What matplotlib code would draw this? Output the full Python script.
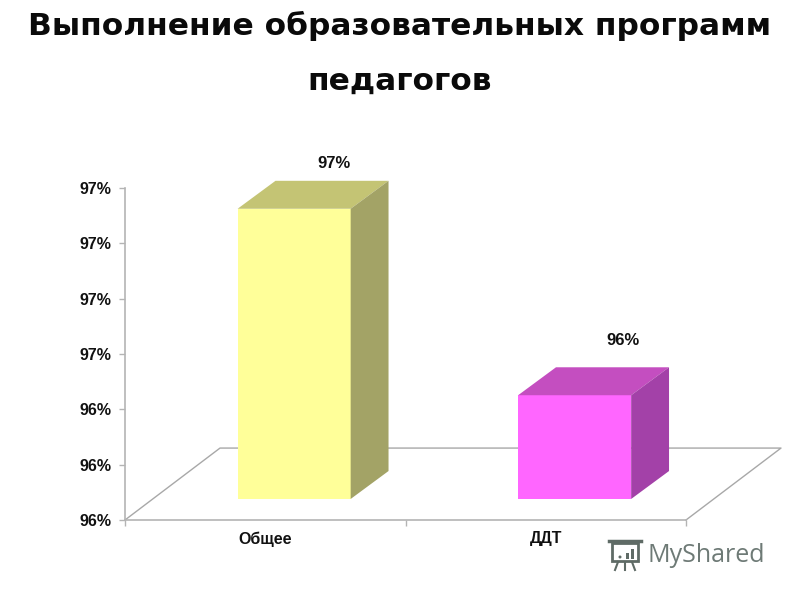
import matplotlib
matplotlib.use("Agg")
import matplotlib.pyplot as plt
from matplotlib.patches import Polygon, Rectangle, Circle

categories = ["Общее", "ДДТ"]
values = [0.9705, 0.96376]
front_colors = ["#FFFF99", "#FF66FF"]
top_colors = ["#C4C474", "#C44EC0"]
side_colors = ["#A3A366", "#A341A8"]
y_ticks = [0.96, 0.962, 0.964, 0.966, 0.968, 0.97, 0.972]
y_labels = ["96%", "96%", "96%", "97%", "97%", "97%", "97%"]
title = "Выполнение образовательных программ\nпедагогов"

y_min = 0.96
y_max = 0.972
# pseudo 3d depth, in data units
floor_dx = 0.3387
floor_dy = 0.0026
front_dx = 0.103
front_dy = 0.00076
bar_dx = 0.135
bar_dy = 0.00101
bar_width = 0.403
# the value labels do not sit at the same spot on each bar
label_dx = [0.143, 0.174]
label_dy = [0.00062, 0.00098]

plt.rcParams["font.family"] = ["Liberation Sans", "DejaVu Sans"]

fig = plt.figure(figsize=(8, 6), dpi=100)
ax = fig.add_axes([125 / 800, 80 / 600, 561 / 800, 332 / 600])
ax.set_xlim(0, 2)
ax.set_ylim(y_min, y_max)

grey = "#B4B4B4"
for s in ["top", "right"]:
    ax.spines[s].set_visible(False)
for s in ["left", "bottom"]:
    ax.spines[s].set_color(grey)
    ax.spines[s].set_linewidth(1.2)

ax.set_yticks(y_ticks)
ax.set_yticklabels(y_labels, fontsize=11.5, fontweight="bold", color="#111111")
ax.set_xticks([0, 1, 2])
ax.set_xticklabels([])
ax.tick_params(axis="both", color=grey, length=4, width=1)
ax.tick_params(axis="y", pad=6)

# floor
ax.plot([0, floor_dx, 2 + floor_dx, 2],
        [y_min, y_min + floor_dy, y_min + floor_dy, y_min],
        color="#A8A8A8", lw=1, clip_on=False, zorder=1)

for i, cat in enumerate(categories):
    x0 = i + 0.5 - bar_width / 2 + front_dx
    x1 = x0 + bar_width
    y0 = y_min + front_dy
    y1 = values[i] + front_dy - 0.00001
    ax.add_patch(Polygon([(x0, y0), (x1, y0), (x1, y1), (x0, y1)],
                         fc=front_colors[i], ec="none", clip_on=False, zorder=3))
    ax.add_patch(Polygon([(x0, y1), (x1, y1), (x1 + bar_dx, y1 + bar_dy), (x0 + bar_dx, y1 + bar_dy)],
                         fc=top_colors[i], ec="none", clip_on=False, zorder=3))
    ax.add_patch(Polygon([(x1, y0), (x1 + bar_dx, y0 + bar_dy), (x1 + bar_dx, y1 + bar_dy), (x1, y1)],
                         fc=side_colors[i], ec="none", clip_on=False, zorder=3))
    ax.text(x0 + bar_width / 2 + label_dx[i], y1 + bar_dy + label_dy[i], f"{values[i]:.0%}",
            ha="center", va="center", fontsize=12, fontweight="bold", color="#111111")
    ax.text(i + 0.5, y_min - 0.00068, cat, ha="center", va="center",
            fontsize=11.5, fontweight="bold", color="#111111", clip_on=False)

# title
fig.text(0.5, 1 - 26 / 600, title.split("\n")[0], ha="center", va="center",
         fontsize=22.5, fontweight="bold", family="DejaVu Sans", color="#0A0A0A")
fig.text(0.5, 1 - 81 / 600, title.split("\n")[1], ha="center", va="center",
         fontsize=22.5, fontweight="bold", family="DejaVu Sans", color="#0A0A0A")

# watermark
wm = "#5F6B66"
fig.text(647 / 800, 1 - 555 / 600, "MyShared", ha="left", va="center",
         fontsize=18, family="Open Sans", color="#6E7A76")
overlay = fig.add_axes([0, 0, 1, 1], facecolor="none")
overlay.set_xlim(0, 800)
overlay.set_ylim(600, 0)
overlay.axis("off")
overlay.add_patch(Rectangle((612, 543), 26, 18, fc="none", ec=wm, lw=2))
overlay.plot([609, 641], [541, 541], color=wm, lw=2.5)
overlay.add_patch(Rectangle((631, 549), 3, 10, fc=wm, ec="none"))
overlay.add_patch(Rectangle((626, 553), 3, 6, fc=wm, ec="none"))
overlay.add_patch(Circle((620, 557), 1.5, fc=wm, ec="none"))
overlay.plot([618, 615], [562, 570], color=wm, lw=1.5)
overlay.plot([625, 625], [562, 570], color=wm, lw=1.5)
overlay.plot([632, 635], [562, 570], color=wm, lw=1.5)

fig.savefig("out.png", dpi=100, facecolor="white")
